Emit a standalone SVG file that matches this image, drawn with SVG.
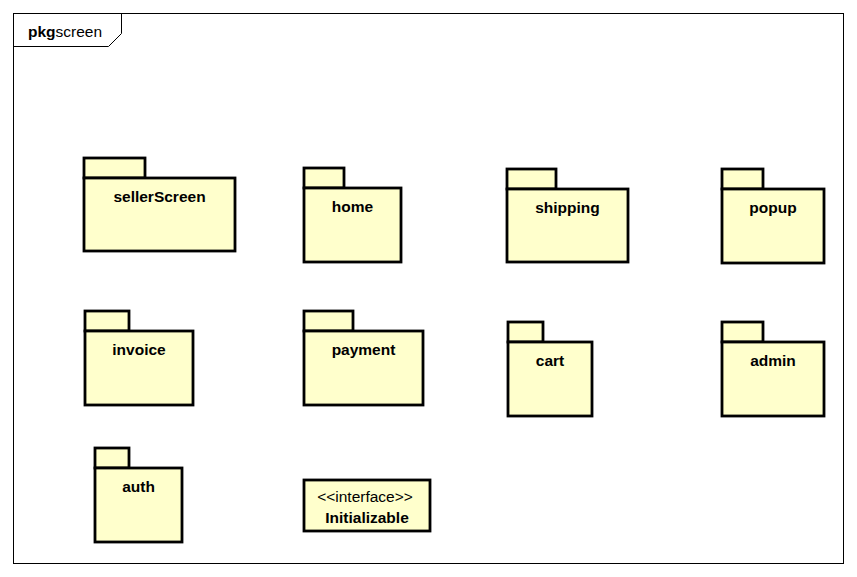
<svg xmlns="http://www.w3.org/2000/svg" width="857" height="577" viewBox="0 0 857 577">
<style>
.pk{fill:#ffffcc;stroke:#000;stroke-width:2.8}
.lb{font-family:"Liberation Sans",Arial,sans-serif;font-size:15.5px;font-weight:bold;text-anchor:middle;fill:#000}
.st{font-family:"Liberation Sans",Arial,sans-serif;font-size:15.5px;text-anchor:middle;fill:#000}
.fr{fill:none;stroke:#000;stroke-width:1}
</style>
<rect width="857" height="577" fill="#fff"/>
<g id="frame">
<rect class="fr" x="13.5" y="13.5" width="830" height="550"/>
<polyline class="fr" points="13.5,46.5 108.5,46.5 121.5,33.5 121.5,13.5"/>
<text x="28" y="37" font-family="Liberation Sans,Arial,sans-serif" font-size="15.5px"><tspan font-weight="bold">pkg</tspan><tspan>screen</tspan></text>
</g>
<g id="sellerScreen">
<rect class="pk" x="84" y="158" width="61" height="20"/>
<rect class="pk" x="84" y="178" width="151" height="73"/>
<text class="lb" x="159.5" y="202">sellerScreen</text>
</g>
<g id="home">
<rect class="pk" x="304" y="168" width="40" height="20"/>
<rect class="pk" x="304" y="188" width="97" height="74"/>
<text class="lb" x="352.5" y="212">home</text>
</g>
<g id="shipping">
<rect class="pk" x="507" y="169" width="49" height="20"/>
<rect class="pk" x="507" y="189" width="121" height="73"/>
<text class="lb" x="567.5" y="213">shipping</text>
</g>
<g id="popup">
<rect class="pk" x="722" y="169" width="41" height="20"/>
<rect class="pk" x="722" y="189" width="102" height="74"/>
<text class="lb" x="773" y="213">popup</text>
</g>
<g id="invoice">
<rect class="pk" x="85" y="311" width="44" height="20"/>
<rect class="pk" x="85" y="331" width="108" height="74"/>
<text class="lb" x="139" y="355">invoice</text>
</g>
<g id="payment">
<rect class="pk" x="304" y="311" width="49" height="20"/>
<rect class="pk" x="304" y="331" width="119" height="74"/>
<text class="lb" x="363.5" y="355">payment</text>
</g>
<g id="cart">
<rect class="pk" x="508" y="322" width="35" height="20"/>
<rect class="pk" x="508" y="342" width="84" height="74"/>
<text class="lb" x="550" y="366">cart</text>
</g>
<g id="admin">
<rect class="pk" x="722" y="322" width="41" height="20"/>
<rect class="pk" x="722" y="342" width="102" height="74"/>
<text class="lb" x="773" y="366">admin</text>
</g>
<g id="auth">
<rect class="pk" x="95" y="448" width="34" height="20"/>
<rect class="pk" x="95" y="468" width="87" height="74"/>
<text class="lb" x="138.5" y="492">auth</text>
</g>
<g id="Initializable">
<rect class="pk" x="304" y="480" width="126" height="51"/>
<text class="st" x="365" y="502">&lt;&lt;interface&gt;&gt;</text>
<text class="lb" x="367" y="523">Initializable</text>
</g>
<g id="connectors"/>
</svg>
